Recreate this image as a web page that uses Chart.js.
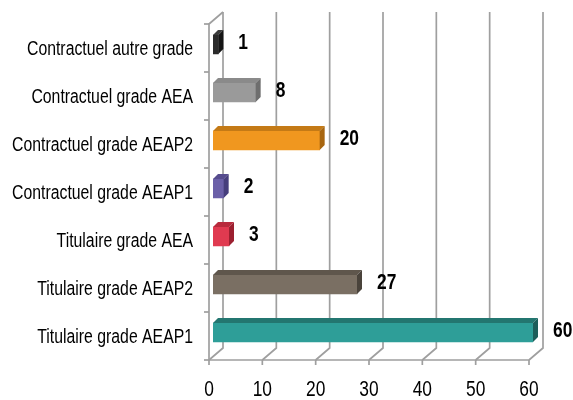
<!DOCTYPE html>
<html>
<head>
<meta charset="utf-8">
<script src="https://cdn.jsdelivr.net/npm/chart.js@4/dist/chart.umd.min.js"></script>
<style>
  body { margin: 0; background: #fff; }
</style>
</head>
<body>
<canvas id="myChart" width="573" height="400"></canvas>
<script>
const ch = document.getElementById('myChart').getContext("2d");

// data, top to bottom as in the picture
const categories = [
    'Contractuel autre grade', 'Contractuel grade AEA', 'Contractuel grade AEAP2',
    'Contractuel grade AEAP1', 'Titulaire grade AEA', 'Titulaire grade AEAP2',
    'Titulaire grade AEAP1'
];
const values = [1, 8, 20, 2, 3, 27, 60];
const xTicks = [0, 10, 20, 30, 40, 50, 60];

// front / top / side colours of each bar
const frontColors = ['#2b2b2b', '#9a9a9a', '#f0971f', '#6b60a8', '#e03a50', '#7a6f63', '#2e9e98'];
const topColors   = ['#3c3c3c', '#8a8a8a', '#c47a16', '#564c8e', '#b82a3c', '#5f564c', '#237670'];
const sideColors  = ['#151515', '#6e6e6e', '#a86610', '#463e7c', '#9c2030', '#4a433b', '#1d5e5a'];

const FONT = '"Liberation Sans", Arial, sans-serif';
const SQUEEZE = 0.79;                  // text in the picture is horizontally condensed
const DEPTH_X = 14, DEPTH_Y = -12;     // depth of the box (front plane -> back wall)
const BAR_DX = 4, BAR_DY = -3.5;       // bars sit a little behind the front plane
const FACE_DX = 5, FACE_DY = -5;       // thickness of the bars
const GRID = '#9f9f9f';

function squeezedText(ctx, text, x, y, align) {
    ctx.save();
    ctx.translate(x, y);
    ctx.scale(SQUEEZE, 1);
    ctx.textAlign = align;
    ctx.textBaseline = 'middle';
    ctx.fillText(text, 0, 0);
    ctx.restore();
}

const pseudo3d = {
    id: 'pseudo3d',
    beforeDatasetsDraw(chart) {
        const { ctx, chartArea: a, scales: { x, y } } = chart;
        ctx.save();
        ctx.strokeStyle = GRID;
        ctx.lineWidth = 1.7;
        // back wall verticals + floor diagonals
        xTicks.forEach(v => {
            const px = x.getPixelForValue(v);
            ctx.beginPath();
            ctx.moveTo(px + DEPTH_X, a.top + DEPTH_Y);
            ctx.lineTo(px + DEPTH_X, a.bottom + DEPTH_Y);
            ctx.lineTo(px, a.bottom);
            ctx.stroke();
        });
        // left front edge, top diagonal, front x axis
        ctx.beginPath();
        ctx.moveTo(a.left + DEPTH_X, a.top + DEPTH_Y);
        ctx.lineTo(a.left, a.top);
        ctx.lineTo(a.left, a.bottom);
        ctx.lineTo(x.getPixelForValue(60), a.bottom);
        ctx.stroke();
        // category ticks
        const step = (a.bottom - a.top) / categories.length;
        for (let i = 0; i <= categories.length; i++) {
            const py = a.top + i * step;
            ctx.beginPath();
            ctx.moveTo(a.left - 5, py);
            ctx.lineTo(a.left, py);
            ctx.stroke();
        }
        // value ticks + labels
        ctx.fillStyle = '#000';
        ctx.font = '22px ' + FONT;
        xTicks.forEach(v => {
            const px = x.getPixelForValue(v);
            ctx.beginPath();
            ctx.moveTo(px, a.bottom);
            ctx.lineTo(px, a.bottom + 5);
            ctx.stroke();
            squeezedText(ctx, String(v), px, a.bottom + 30, 'center');
        });
        // category labels
        ctx.font = '20px ' + FONT;
        categories.forEach((c, i) => {
            squeezedText(ctx, c, a.left - 16, y.getPixelForValue(i) + 1, 'right');
        });
        ctx.restore();

        ctx.save();
        ctx.translate(BAR_DX, BAR_DY);
    },
    afterDatasetsDraw(chart) {
        const { ctx } = chart;
        const meta = chart.getDatasetMeta(0);
        meta.data.forEach((bar, i) => {
            const { x, y, base, height } = bar.getProps(['x', 'y', 'base', 'height'], true);
            const t = y - height / 2, b = y + height / 2;
            ctx.fillStyle = topColors[i];
            ctx.beginPath();
            ctx.moveTo(base, t);
            ctx.lineTo(x, t);
            ctx.lineTo(x + FACE_DX, t + FACE_DY);
            ctx.lineTo(base + FACE_DX, t + FACE_DY);
            ctx.closePath();
            ctx.fill();
            ctx.fillStyle = sideColors[i];
            ctx.beginPath();
            ctx.moveTo(x, t);
            ctx.lineTo(x + FACE_DX, t + FACE_DY);
            ctx.lineTo(x + FACE_DX, b + FACE_DY);
            ctx.lineTo(x, b);
            ctx.closePath();
            ctx.fill();
            // value label
            ctx.fillStyle = '#000';
            ctx.font = 'bold 22px ' + FONT;
            squeezedText(ctx, String(values[i]), x + FACE_DX + 15, y - 2, 'left');
        });
        ctx.restore();
    }
};

const config = {
    type: 'bar',
    data: {
        labels: categories,
        datasets: [{
            data: values,
            backgroundColor: frontColors,
            borderWidth: 0,
            barThickness: 19
        }]
    },
    options: {
        indexAxis: 'y',
        responsive: false,
        animation: false,
        layout: { padding: { left: 209, right: 44, top: 24, bottom: 40 } },
        plugins: { legend: { display: false }, tooltip: { enabled: false } },
        scales: {
            x: { display: false, min: 0, max: 60 },
            y: { display: false }
        }
    },
    plugins: [pseudo3d]
};

const myChart = new Chart(ch, config);
</script>
</body>
</html>
